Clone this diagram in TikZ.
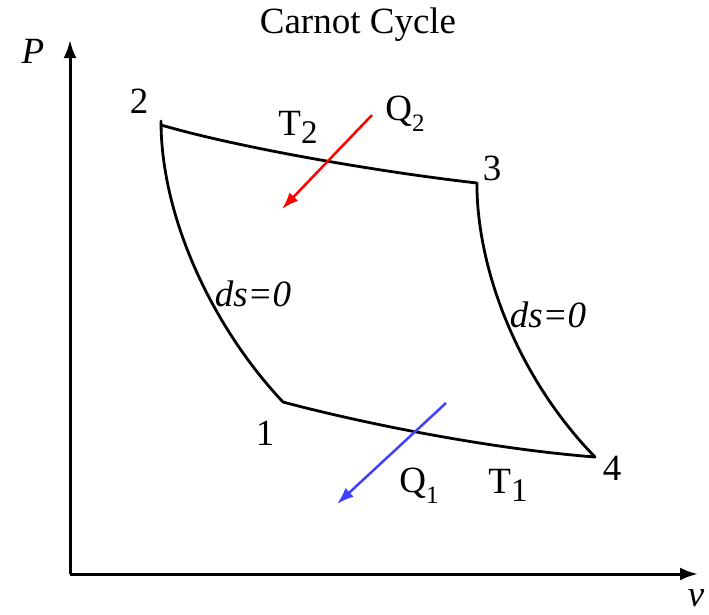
\documentclass[tikz,border=0pt]{standalone}
\usepackage{fontspec}
\newfontfamily\tnr{Liberation Serif}
\usetikzlibrary{arrows.meta}
\begin{document}
\begin{tikzpicture}[x=1pt,y=-1pt,
  lbl/.style={font=\tnr\fontsize{37}{39}\selectfont, inner sep=0pt},
  axis/.style={line width=3pt, -{Latex[length=18pt,width=13pt]}},
  curve/.style={line width=2.8pt, line join=round},
  heat/.style={line width=2.5pt, -{Latex[length=17pt,width=12pt]}}]
\useasboundingbox (0,0) rectangle (709,614);
% axes
\coordinate (O) at (70,574);
\coordinate (Ptop) at (70,40);
\coordinate (Vend) at (698,574);
\draw[axis] (O) -- (Ptop);
\draw[axis] (O) -- (Vend);
\node[lbl] (P) at (33,51) {\itshape P};
\node[lbl] (v) at (696,598) {\itshape v};
\node[lbl] (title) at (358,25) {Carnot Cycle};
% state points
\coordinate (p2) at (161,121);
\coordinate (p2b) at (161,125);
\coordinate (p3) at (477,183);
\coordinate (p4) at (595,457);
\coordinate (p1) at (283,402);
\draw[curve] (p2b) .. controls (240,148) and (380,172) .. (p3)
  -- (477,190) .. controls (479,275) and (520,380) .. (p4)
  .. controls (480,448) and (350,420) .. (p1)
  .. controls (215,330) and (161,220) .. (p2) -- (p2b);
% labels
\node[lbl] (l2) at (139,101) {2};
\node[lbl] (l3) at (492,168) {3};
\node[lbl] (l4) at (612,468) {4};
\node[lbl] (l1) at (265,433) {1};
\node[lbl] (T2) at (298,127) {T\raisebox{-0.22em}{\fontsize{33}{33}\selectfont 2}};
\node[lbl] (T1) at (508,485) {T\raisebox{-0.22em}{\fontsize{33}{33}\selectfont 1}};
\node[lbl] (Q2) at (405,114) {Q\raisebox{-0.3em}{\fontsize{25}{25}\selectfont 2}};
\node[lbl] (Q1) at (419,486) {Q\raisebox{-0.3em}{\fontsize{25}{25}\selectfont 1}};
\node[lbl] (ds1) at (253,294) {\itshape ds=0};
\node[lbl] (ds2) at (548,315) {\itshape ds=0};
% heat arrows
\coordinate (r1) at (372,115);
\coordinate (r2) at (282,209);
\coordinate (b1) at (446,403);
\coordinate (b2) at (337,504);
\draw[heat, red] (r1) -- (r2);
\draw[heat, blue!75!white] (b1) -- (b2);
\end{tikzpicture}
\end{document}
